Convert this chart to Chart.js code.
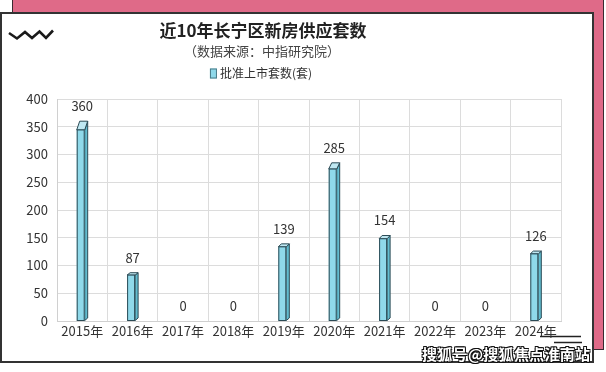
<!DOCTYPE html>
<html>
<head>
<meta charset="utf-8">
<script src="https://cdn.jsdelivr.net/npm/chart.js@4/dist/chart.umd.min.js"></script>
<style>
  body { margin: 0; background: #fff; }
  #wrap { position: relative; width: 606px; height: 372px; overflow: hidden; font-family: "Noto Sans CJK SC", sans-serif; }
  #pink { position: absolute; left: 12px; top: -1px; width: 590px; height: 349px; background: #df6a88; border: 1px solid #3a2a30; }
  #card { position: absolute; left: 0; top: 12px; width: 590px; height: 347px; background: #fff; border: 2px solid #333; }
  #chart { position: absolute; left: 0; top: 0; }
  .txt { position: absolute; white-space: nowrap; transform: translate(-50%, -50%); }
  #title { left: 263px; top: 29px; font-size: 17px; font-weight: bold; color: #222; }
  #sub { left: 262px; top: 50px; font-size: 13px; color: #444; }
  #legend { left: 261px; top: 72px; font-size: 12px; color: #333; }
  #legend i { display: inline-block; width: 5px; height: 8px; background: #8fd9ea; border: 1px solid #4a7a86; margin-right: 3px; vertical-align: -1px; }
  #mark { position: absolute; left: 422px; top: 343px; font-size: 15px; font-weight: bold; color: #fff; letter-spacing: 0.3px;
          text-shadow: -1px -1px 0 #111, 1px -1px 0 #111, -1px 1px 0 #111, 1px 1px 0 #111, 0 1px 0 #111, 0 -1px 0 #111; }
  svg { position: absolute; left: 0; top: 0; }
</style>
</head>
<body>
<div id="wrap">
  <div id="pink"></div>
  <div id="card"></div>
  <svg width="606" height="372">
    <polyline points="9,33 17,38.5 25,32 32,38 39.5,31.5 46,38 53,30.5" fill="none" stroke="#1a1a1a" stroke-width="2.6" stroke-linejoin="miter"/>
    <line x1="540" y1="336.5" x2="581" y2="336.5" stroke="#222" stroke-width="1.5"/>
    <line x1="554" y1="342.5" x2="582" y2="342.5" stroke="#222" stroke-width="1.5"/>
  </svg>
  <canvas id="chart" width="606" height="372"></canvas>
  <div class="txt" id="title">近10年长宁区新房供应套数</div>
  <div class="txt" id="sub">（数据来源：中指研究院）</div>
  <div class="txt" id="legend"><i></i>批准上市套数(套)</div>
  <div id="mark">搜狐号@搜狐焦点淮南站</div>
</div>
<script>
const years = ['2015年', '2016年', '2017年', '2018年', '2019年', '2020年', '2021年', '2022年', '2023年', '2024年'];
const supply = [360, 87, 0, 0, 139, 285, 154, 0, 0, 126];
const yTicks = [0, 50, 100, 150, 200, 250, 300, 350, 400];

const fontFamily = '"Noto Sans CJK SC", sans-serif';
const colorFront = '#8fd9ea';
const colorSide = '#62bccf';
const colorTop = '#bfe8f2';
const colorEdge = '#2b4a55';

// draws the 3D-looking bars and value labels on top of the (invisible) chart.js bars
const bar3d = {
  id: 'bar3d',
  afterDatasetsDraw(chart) {
    const ctx = chart.ctx;
    const meta = chart.getDatasetMeta(0);
    ctx.save();
    meta.data.forEach((el, i) => {
      const h = el.base - el.y;
      if (h > 0.5) {
        const x0 = el.x - 5.5;
        const x1 = x0 + 8;
        const dx = 3;
        const dy = 2 + 0.00017 * h * h;
        const yb = el.y;
        const yf = yb + dy;
        ctx.lineWidth = 1;
        ctx.strokeStyle = colorEdge;
        // side
        ctx.beginPath();
        ctx.moveTo(x1, yf);
        ctx.lineTo(x1 + dx, yb);
        ctx.lineTo(x1 + dx, el.base - 2.5);
        ctx.lineTo(x1, el.base);
        ctx.closePath();
        ctx.fillStyle = colorSide;
        ctx.fill();
        ctx.stroke();
        // top
        ctx.beginPath();
        ctx.moveTo(x0, yf);
        ctx.lineTo(x0 + dx, yb);
        ctx.lineTo(x1 + dx, yb);
        ctx.lineTo(x1, yf);
        ctx.closePath();
        ctx.fillStyle = colorTop;
        ctx.fill();
        ctx.stroke();
        // front
        ctx.fillStyle = colorFront;
        ctx.fillRect(x0, yf, 8, el.base - yf);
        ctx.strokeRect(x0 + 0.5, yf, 7, el.base - yf);
      }
      ctx.fillStyle = '#333';
      ctx.font = '13px ' + fontFamily;
      ctx.textAlign = 'center';
      ctx.textBaseline = 'middle';
      ctx.fillText(String(supply[i]), el.x, el.y - 15);
    });
    ctx.restore();
  }
};

new Chart(document.getElementById('chart'), {
  type: 'bar',
  data: {
    labels: years,
    datasets: [{
      label: '批准上市套数(套)',
      data: supply,
      backgroundColor: 'rgba(0,0,0,0)',
      borderWidth: 0,
      barThickness: 11,
    }]
  },
  options: {
    responsive: false,
    animation: false,
    layout: { padding: { left: 0, right: 45, top: 99, bottom: 0 } },
    plugins: {
      legend: { display: false },
      tooltip: { enabled: false },
    },
    scales: {
      x: {
        grid: { color: '#dcdcdc', drawTicks: false },
        border: { color: '#d0d0d0' },
        ticks: { color: '#333', padding: 2, font: { size: 13, family: fontFamily } },
        afterFit(scale) { scale.height = 51; },
      },
      y: {
        min: 0,
        max: 400,
        grid: { color: '#dcdcdc', drawTicks: false },
        border: { color: '#d0d0d0' },
        afterBuildTicks(scale) { scale.ticks = yTicks.map(v => ({ value: v })); },
        ticks: { color: '#333', padding: 9, font: { size: 13, family: fontFamily } },
        afterFit(scale) { scale.width = 57; },
      }
    }
  },
  plugins: [bar3d]
});
</script>
</body>
</html>
